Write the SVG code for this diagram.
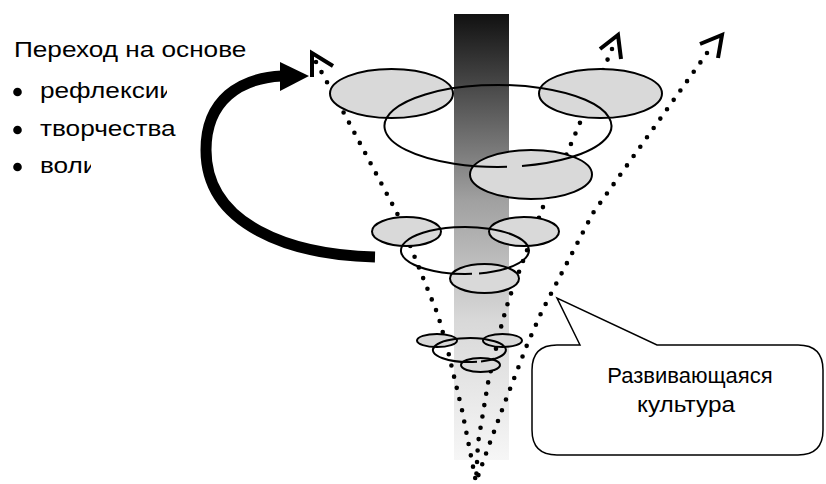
<svg xmlns="http://www.w3.org/2000/svg" width="826" height="484" viewBox="0 0 826 484">
<style>
.t{font-family:"Liberation Sans",Arial,sans-serif;font-size:22px;fill:#000}
.dot{fill:none;stroke:#000;stroke-width:4.6;stroke-linecap:round;stroke-dasharray:0 11.5}
.chev{fill:none;stroke:#000;stroke-width:4;stroke-linejoin:miter}
.g{fill:#d9d9d9;stroke:#000;stroke-width:2}
.o{fill:none;stroke:#000;stroke-width:2}
</style>
<defs>
<linearGradient id="barg" x1="0" y1="0" x2="0" y2="1">
<stop offset="0" stop-color="#111"/>
<stop offset="0.417" stop-color="#a0a0a0"/>
<stop offset="0.686" stop-color="#d8d8d8"/>
<stop offset="1" stop-color="#f6f6f6"/>
</linearGradient>
<clipPath id="c1"><rect x="0" y="20" width="248" height="50"/></clipPath>
<clipPath id="c2"><rect x="0" y="70" width="167" height="40"/></clipPath>
<clipPath id="c4"><rect x="0" y="145" width="91" height="40"/></clipPath>
</defs>
<rect width="826" height="484" fill="#fff"/>

<g id="list">
<g clip-path="url(#c1)"><text class="t" transform="translate(14,57) scale(1.19,1)">Переход на основе</text></g>
<circle cx="17.5" cy="92" r="4.3"/>
<g clip-path="url(#c2)"><text class="t" transform="translate(40,98) scale(1.19,1)">рефлексии</text></g>
<circle cx="17.5" cy="130" r="4.3"/>
<text class="t" transform="translate(40,136) scale(1.19,1)">творчества</text>
<circle cx="17.5" cy="167" r="4.3"/>
<g clip-path="url(#c4)"><text class="t" transform="translate(40,173) scale(1.19,1)">воли</text></g>
</g>

<g id="bar"><rect x="454" y="14" width="55" height="446" fill="url(#barg)"/></g>

<g id="connectors">
<path class="dot" d="M316,62 L345,115 L397,213 L438,315 L448,351 L462,410 L476,482"/>
<path class="dot" d="M612,49 L607,61 L582,118 L568,151 L543,207 L526,253 L509,299 L502,323 L488,383 L478,443 L476,482"/>
<path class="dot" d="M707,53 L700,63 L593,213 L542,311 L527,345 L505,402 L488,448 L476,482"/>
<path class="chev" d="M312,77 L312,53 L333,66"/>
<path class="chev" d="M600,49 L618,35 L621,59"/>
<path class="chev" d="M700,44 L722,35 L718,58"/>
<path d="M375,257 C290,255 206,225 206,150 C206,100 240,78 282,76" fill="none" stroke="#000" stroke-width="11"/>
<polygon points="280,62 309,76 280,91" fill="#000"/>
</g>

<g id="level-top">
<ellipse class="g" cx="391.5" cy="93.5" rx="61.5" ry="24.5"/>
<ellipse class="g" cx="600.5" cy="93.5" rx="61.5" ry="24.5"/>
<ellipse class="g" cx="531" cy="174.5" rx="61" ry="24.5"/>
<path class="o" d="M507,166.8 A113.5,41 0 1 1 522,166"/>
</g>

<g id="level-mid">
<ellipse class="g" cx="406.5" cy="231.5" rx="34.5" ry="14.5"/>
<ellipse class="g" cx="524" cy="231.5" rx="35" ry="14.5"/>
<ellipse class="g" cx="484.5" cy="278.5" rx="34.5" ry="14.5"/>
<path class="o" d="M472,273.86 A64,23.5 0 1 1 479,273.43"/>
</g>

<g id="level-bottom">
<ellipse class="g" cx="437" cy="340.5" rx="20" ry="6.5"/>
<ellipse class="g" cx="502.5" cy="340.5" rx="19.5" ry="6.5"/>
<ellipse class="g" cx="480.5" cy="365" rx="19.5" ry="7"/>
<path class="o" d="M477,361.75 A36.5,12 0 1 1 481,361.39"/>
</g>

<g id="callout">
<path d="M580,345 L557,298 L657,345 L798,345 Q823,345 823,370 L823,430 Q823,455 798,455 L557,455 Q532,455 532,430 L532,370 Q532,345 557,345 Z" fill="#fff" stroke="#000" stroke-width="1.5"/>
<text class="t" x="690" y="383" text-anchor="middle">Развивающаяся</text>
<text class="t" x="637" y="412" textLength="98" lengthAdjust="spacingAndGlyphs">культура</text>
</g>
</svg>
